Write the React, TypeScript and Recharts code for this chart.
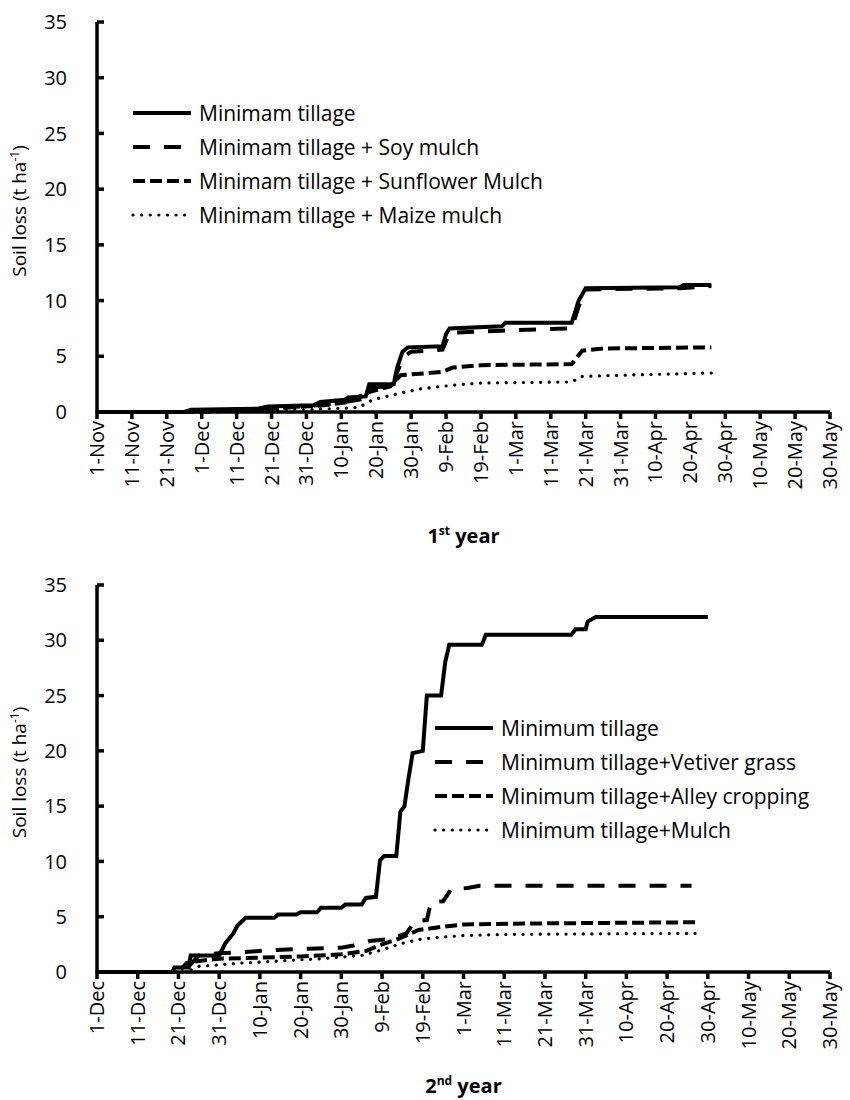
import { Legend, Line, LineChart, XAxis, YAxis } from "recharts";

const FONT = "'Open Sans', sans-serif";

// x values are days counted from the first date label
const Y1_DATES = [
  "1-Nov", "11-Nov", "21-Nov", "1-Dec", "11-Dec", "21-Dec", "31-Dec", "10-Jan",
  "20-Jan", "30-Jan", "9-Feb", "19-Feb", "1-Mar", "11-Mar", "21-Mar", "31-Mar",
  "10-Apr", "20-Apr", "30-Apr", "10-May", "20-May", "30-May",
];
const Y2_DATES = [
  "1-Dec", "11-Dec", "21-Dec", "31-Dec", "10-Jan", "20-Jan", "30-Jan", "9-Feb",
  "19-Feb", "1-Mar", "11-Mar", "21-Mar", "31-Mar", "10-Apr", "20-Apr", "30-Apr",
  "10-May", "20-May", "30-May",
];
const Y_TICKS = [0, 5, 10, 15, 20, 25, 30, 35];

// 1st year, [day, soil loss t/ha]
const Y1_TILLAGE: [number, number][] = [
  [0, 0], [25, 0], [27, 0.2], [46, 0.3], [49, 0.5], [62, 0.6], [64, 0.9], [71, 1.1],
  [72, 1.3], [77, 1.4], [78, 2.5], [85, 2.5], [86, 4.0], [87.5, 5.4], [89, 5.8],
  [99, 5.9], [100, 7.0], [101, 7.5], [116, 7.7], [117, 8.0], [136, 8.0], [138, 10.0],
  [140, 11.1], [167, 11.2], [168, 11.4], [176, 11.4],
];
const Y1_SOY: [number, number][] = [
  [0, 0], [27, 0], [30, 0.1], [48, 0.3], [63, 0.6], [71, 0.9], [77, 1.2], [78, 2.2],
  [85, 2.3], [86, 3.6], [88, 5.0], [90, 5.4], [99, 5.6], [101, 7.1], [116, 7.3],
  [136, 7.5], [138, 9.5], [140, 11.0], [167, 11.1], [176, 11.3],
];
const Y1_SUNFLOWER: [number, number][] = [
  [0, 0], [30, 0], [50, 0.3], [65, 0.6], [72, 0.9], [78, 1.8], [84, 2.3], [87, 3.3],
  [95, 3.5], [99, 3.6], [102, 4.0], [110, 4.2], [136, 4.3], [139, 5.5], [145, 5.7],
  [176, 5.8],
];
const Y1_MAIZE: [number, number][] = [
  [0, 0], [30, 0], [60, 0.2], [75, 0.4], [79, 1.1], [87, 1.7], [93, 2.1], [102, 2.4],
  [110, 2.6], [136, 2.7], [139, 3.2], [150, 3.3], [176, 3.5],
];

// 2nd year
const Y2_TILLAGE: [number, number][] = [
  [0, 0], [18.5, 0], [19, 0.4], [22.5, 0.4], [23, 1.5], [30, 1.5], [31.5, 2.6],
  [33.5, 3.5], [34.5, 4.2], [36.5, 4.9], [43.5, 4.9], [44.5, 5.2], [49, 5.2],
  [50, 5.4], [54, 5.4], [55, 5.8], [60, 5.8], [61, 6.1], [65, 6.1], [66, 6.7],
  [68.5, 6.8], [69.5, 10.1], [70.5, 10.5], [73.5, 10.5], [74.5, 14.5], [75.5, 15],
  [76.5, 17.5], [77.5, 19.8], [80, 20], [81, 25], [84.5, 25], [85.5, 28], [86.5, 29.6],
  [94.5, 29.6], [95.5, 30.5], [116.5, 30.5], [117.5, 31], [120, 31], [120.5, 31.7],
  [122.5, 32.1], [150, 32.1],
];
const Y2_VETIVER: [number, number][] = [
  [0, 0], [21, 0], [22, 0.3], [25, 1.5], [30, 1.7], [36, 1.8], [44, 2.0], [52, 2.1],
  [60, 2.2], [63, 2.4], [67, 2.8], [72, 3.0], [76, 3.5], [78, 4.6], [81, 4.7],
  [82, 6.3], [85, 6.4], [87, 7.5], [91, 7.6], [94, 7.8], [146, 7.8],
];
const Y2_ALLEY: [number, number][] = [
  [0, 0], [20, 0], [22, 0.8], [25, 1.0], [30, 1.2], [40, 1.3], [50, 1.4], [60, 1.6],
  [66, 1.9], [70, 2.5], [74, 3.0], [79, 3.8], [85, 4.1], [90, 4.3], [110, 4.4],
  [148, 4.5],
];
const Y2_MULCH: [number, number][] = [
  [0, 0], [22, 0], [25, 0.5], [35, 0.8], [45, 1.0], [55, 1.2], [65, 1.5], [70, 2.0],
  [75, 2.6], [80, 3.0], [90, 3.3], [100, 3.4], [148, 3.5],
];

const STYLE: Record<string, { w: number; dash?: string; cap?: "round" | "butt" }> = {
  solid: { w: 4 },
  long: { w: 4, dash: "17 14" },
  short: { w: 4, dash: "12 5" },
  dot: { w: 3.2, dash: "0.1 8.5", cap: "round" },
};

const toRows = (pts: [number, number][]) => pts.map(([d, v]) => ({ d, v }));

const YEAR1 = [
  { name: "Minimam tillage", pts: Y1_TILLAGE, style: "solid" },
  { name: "Minimam tillage + Soy mulch", pts: Y1_SOY, style: "long" },
  { name: "Minimam tillage + Sunflower Mulch", pts: Y1_SUNFLOWER, style: "short" },
  { name: "Minimam tillage + Maize mulch", pts: Y1_MAIZE, style: "dot" },
];
const YEAR2 = [
  { name: "Minimum tillage", pts: Y2_TILLAGE, style: "solid" },
  { name: "Minimum tillage+Vetiver grass", pts: Y2_VETIVER, style: "long" },
  { name: "Minimum tillage+Alley cropping", pts: Y2_ALLEY, style: "short" },
  { name: "Minimum tillage+Mulch", pts: Y2_MULCH, style: "dot" },
];

function DateTick({ x, y, payload, labels }: any) {
  return (
    <text
      x={x} y={y} dy="0.35em" textAnchor="end" fontSize={20} fill="#000"
      transform={`rotate(-90, ${x}, ${y})`}
    >
      {labels[Math.round(payload.value / 10)]}
    </text>
  );
}

function YearLabel({ viewBox, n, sup, gap }: any) {
  const { x, y, width } = viewBox;
  return (
    <text x={x + width / 2} y={y + gap} textAnchor="middle" fontSize={20} fontWeight="bold" fill="#000">
      {n}
      <tspan fontSize={12} dy={-8}>{sup}</tspan>
      <tspan dy={8}> year</tspan>
    </text>
  );
}

function SoilLabel({ viewBox }: any) {
  const cx = 26;
  const cy = viewBox.y + viewBox.height / 2 - 6;
  return (
    <text x={cx} y={cy} textAnchor="middle" fontSize={19} fill="#000" transform={`rotate(-90, ${cx}, ${cy})`}>
      Soil loss (t ha
      <tspan fontSize={12} dy={-7}>-1</tspan>
      <tspan dy={7}>)</tspan>
    </text>
  );
}

function LegendBox({ series }: { series: typeof YEAR1 }) {
  return (
    <div style={{ fontFamily: FONT }}>
      {series.map((s) => {
        const st = STYLE[s.style];
        return (
          <div key={s.name} style={{ display: "flex", alignItems: "center", height: 34 }}>
            <svg width={62} height={14} style={{ marginRight: 6 }}>
              <line
                x1={2} y1={7} x2={60} y2={7} stroke="#000" strokeWidth={st.w}
                strokeDasharray={st.dash} strokeLinecap={st.cap ?? "butt"}
              />
            </svg>
            <span style={{ fontSize: 21, color: "#000", whiteSpace: "nowrap" }}>{s.name}</span>
          </div>
        );
      })}
    </div>
  );
}

function SoilLossChart({ dates, series, n, sup, height, marginTop, plotH, legendPos, titleGap }: any) {
  const span = (dates.length - 1) * 10;
  const ticks = dates.map((_: string, i: number) => i * 10);
  return (
    <LineChart width={850} height={height} margin={{ top: marginTop, right: 20, bottom: 0, left: 0 }}>
      <XAxis
        type="number" dataKey="d" domain={[0, span]} ticks={ticks} interval={0}
        height={height - marginTop - plotH}
        axisLine={{ stroke: "#000", strokeWidth: 3.5 }}
        tickLine={{ stroke: "#000", strokeWidth: 3.5 }}
        tickSize={7} tickMargin={2}
        tick={<DateTick labels={dates} />}
        label={<YearLabel n={n} sup={sup} gap={titleGap} />}
      />
      <YAxis
        type="number" domain={[0, 35]} ticks={Y_TICKS} interval={0} width={97}
        axisLine={{ stroke: "#000", strokeWidth: 3.5 }}
        tickLine={{ stroke: "#000", strokeWidth: 3.5 }}
        tickSize={-7} tickMargin={37}
        tick={{ fill: "#000", fontSize: 20 }}
        label={<SoilLabel />}
      />
      <Legend
        layout="vertical" align="center" verticalAlign="middle"
        wrapperStyle={{ left: legendPos[0], top: legendPos[1], width: "auto" }}
        content={() => <LegendBox series={series} />}
      />
      {series.map((s: any) => {
        const st = STYLE[s.style];
        return (
          <Line
            key={s.name}
            data={toRows(s.pts)}
            dataKey="v"
            name={s.name}
            type="linear"
            stroke="#000"
            strokeWidth={st.w}
            strokeDasharray={st.dash}
            strokeLinecap={st.cap ?? "butt"}
            dot={false}
            activeDot={false}
            isAnimationActive={false}
          />
        );
      })}
    </LineChart>
  );
}

export default function App() {
  return (
    <div style={{ position: "absolute", left: 0, top: 0, width: 850, height: 1100, background: "#fff", fontFamily: FONT }}>
      <div style={{ position: "absolute", left: 0, top: 0 }}>
        <SoilLossChart
          dates={Y1_DATES} series={YEAR1} n="1" sup="st" titleGap={131}
          height={560} marginTop={22} plotH={390} legendPos={[131, 96]}
        />
      </div>
      <div style={{ position: "absolute", left: 0, top: 560 }}>
        <SoilLossChart
          dates={Y2_DATES} series={YEAR2} n="2" sup="nd" titleGap={121}
          height={540} marginTop={25} plotH={387} legendPos={[433, 151]}
        />
      </div>
    </div>
  );
}
